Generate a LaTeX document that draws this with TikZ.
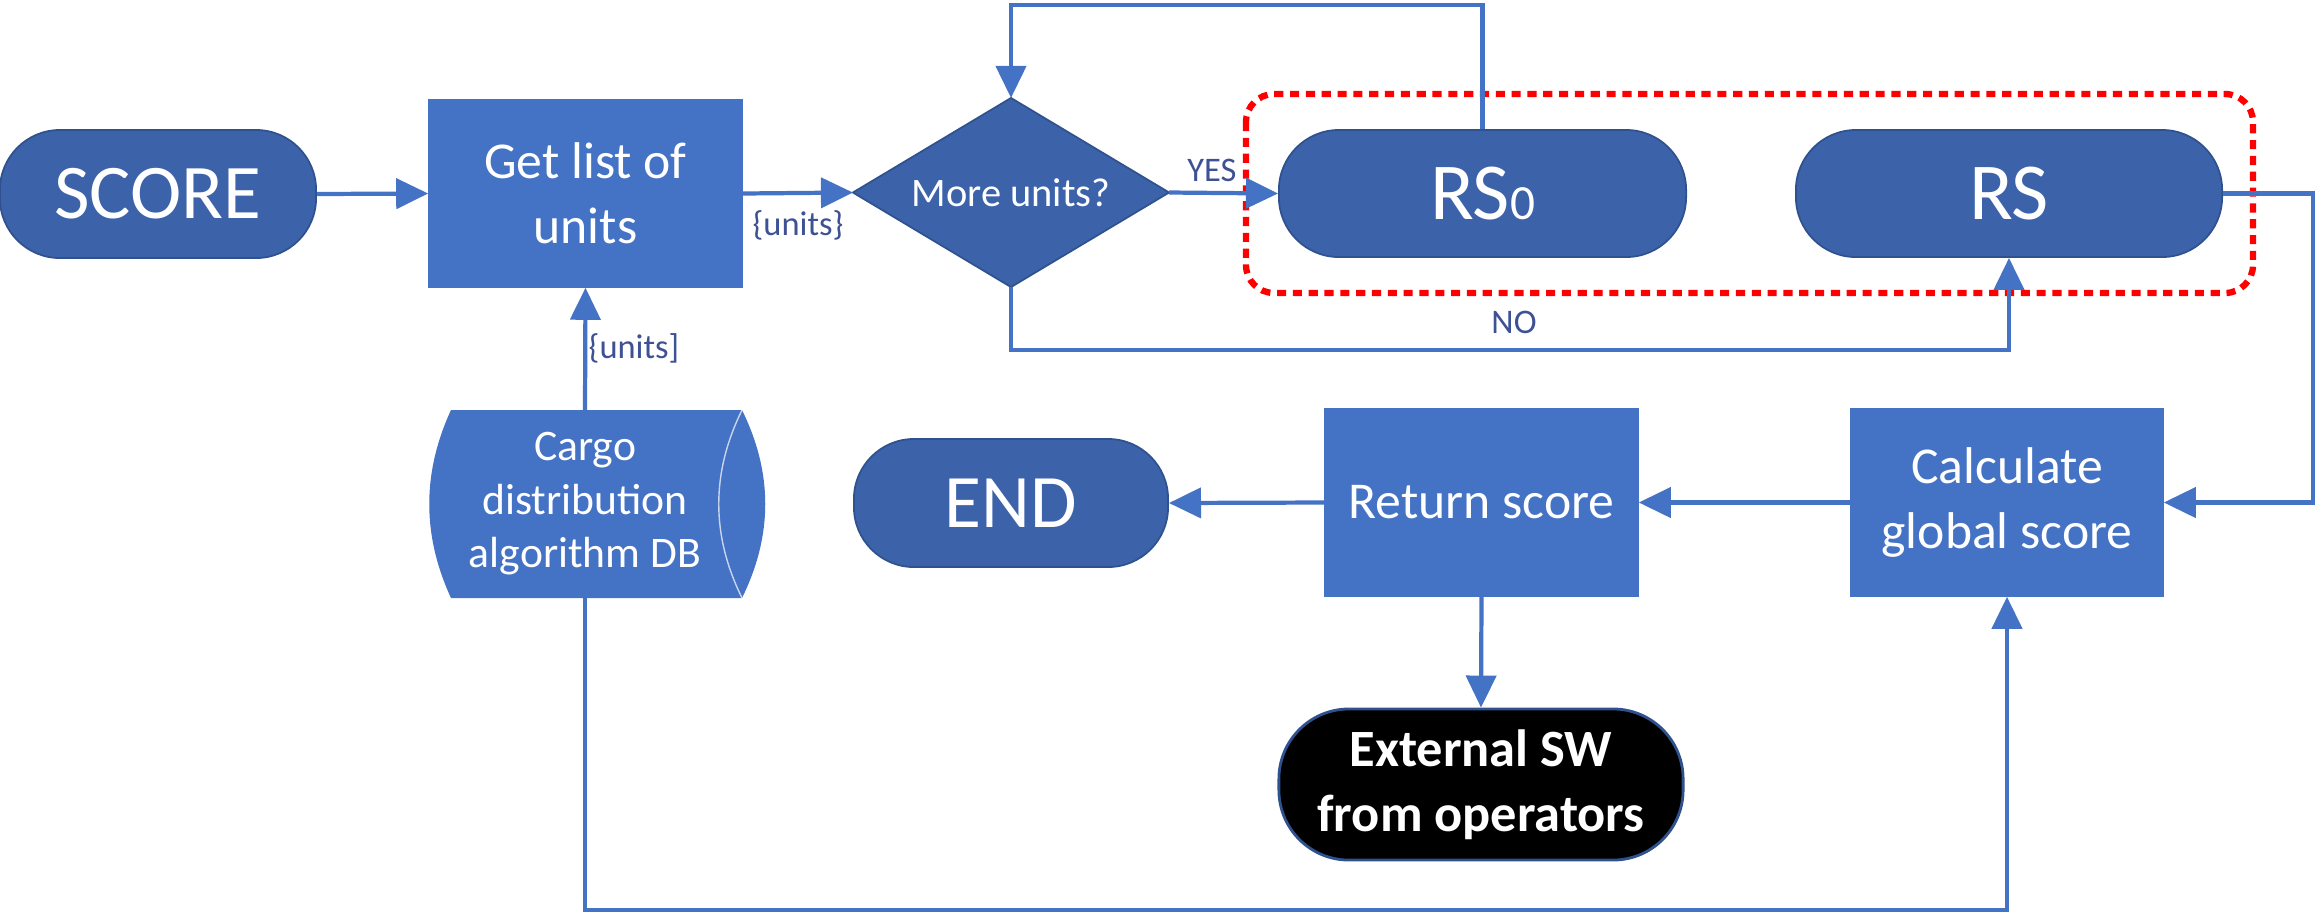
\documentclass[tikz,border=0pt]{standalone}
\usepackage{fontspec}
\setmainfont{Carlito}
\usetikzlibrary{arrows.meta,shapes.geometric}

\definecolor{boxblue}{HTML}{4472C4}
\definecolor{pillblue}{HTML}{3C62AA}
\definecolor{edgeblue}{HTML}{2F528F}
\definecolor{labelblue}{HTML}{3E5193}
\definecolor{framered}{HTML}{FF0000}

\begin{document}
\begin{tikzpicture}[x=0.01cm,y=-0.01cm,
  procbox/.style={rectangle, fill=boxblue, draw=boxblue, text=white,
    align=center, inner sep=0pt, font=\fontsize{14.7}{18.5}\selectfont},
  pill/.style={rectangle, rounded corners=0.6cm, fill=pillblue, draw=edgeblue,
    line width=0.5pt, text=white, align=center, inner sep=0pt},
  decision/.style={diamond, aspect=1.67, fill=pillblue, draw=edgeblue,
    line width=0.5pt, text=white, inner sep=0pt, outer sep=0pt,
    font=\fontsize{11.5}{14}\selectfont},
  flow/.style={draw=boxblue, line width=1.2pt,
    -{Triangle[length=0.32cm,width=0.30cm]}},
  edgelabel/.style={text=labelblue, inner sep=0pt, font=\fontsize{9.8}{11}\selectfont},
  groupframe/.style={draw=framered, line width=1.8pt, rounded corners=0.28cm,
    dash pattern=on 2.6pt off 1.9pt}
]
\useasboundingbox (0,0) rectangle (2318,914);

% ---- top row ----
\node[pill, minimum width=3.16cm, minimum height=1.28cm,
  font=\fontsize{22}{26}\selectfont] (score) at (158,194) {SCORE};
\node[procbox, minimum width=3.13cm, minimum height=1.87cm] (getlist)
  at (585.5,193.5) {Get list of\\units};
\node[decision, minimum width=3.16cm, minimum height=1.89cm] (more)
  at (1011,192.5) {More units?};
\node[pill, minimum width=4.07cm, minimum height=1.27cm,
  font=\fontsize{23}{26}\selectfont] (rs0) at (1482.5,193.5)
  {RS{\fontsize{14}{14}\selectfont 0}};
\node[pill, minimum width=4.26cm, minimum height=1.27cm,
  font=\fontsize{23}{26}\selectfont] (rs) at (2009,193.5) {RS};

% ---- middle row ----
\fill[boxblue] (451,410) .. controls (422,473) and (422,535) .. (451,598)
  -- (742,598) .. controls (773,535) and (773,473) .. (742,410) -- cycle;
\draw[white, opacity=0.7, line width=0.4pt]
  (742,410) .. controls (711,473) and (711,535) .. (742,598);
\node[text=white, align=center, inner sep=0pt,
  font=\fontsize{12.4}{15.2}\selectfont] (db) at (585,504)
  {Cargo\\distribution\\algorithm DB};
\coordinate (dbtop) at (585,410);
\coordinate (dbbottom) at (585,598);

\node[pill, minimum width=3.14cm, minimum height=1.28cm,
  font=\fontsize{21.5}{25}\selectfont] (end) at (1011,503) {END};
\node[procbox, minimum width=3.13cm, minimum height=1.87cm] (ret)
  at (1481.5,502.5) {Return score};
\node[procbox, minimum width=3.12cm, minimum height=1.87cm] (calc)
  at (2007,502.5) {Calculate\\global score};

% ---- bottom row ----
\node[rectangle, rounded corners=0.7cm, fill=black, draw=edgeblue,
  line width=0.8pt, text=white, align=center, inner sep=0pt,
  minimum width=4.04cm, minimum height=1.51cm,
  font=\bfseries\fontsize{14.9}{18.5}\selectfont] (ext) at (1481,784.5)
  {External SW\\from operators};

% ---- group frame ----
\draw[groupframe] (1246,94) rectangle (2253,293);

% ---- connectors ----
\draw[flow] (score.east) -- (getlist.west);
\draw[flow] (getlist.east) -- (more.west);
\node[edgelabel] (lunits) at (798,225) {\{units\}};
\draw[flow] (more.east) -- (rs0.west);
\node[edgelabel] (lyes) at (1212,170) {YES};
\draw[flow] (rs0.north) -- (rs0.north |- 0,5) -- (more.north |- 0,5) -- (more.north);
\draw[flow] (more.south) -- (more.south |- 0,350) -- (rs.south |- 0,350) -- (rs.south);
\node[edgelabel] (lno) at (1514,322) {NO};
\draw[flow] (rs.east) -- (2313,193.5) -- (2313,502.5) -- (calc.east);
\draw[flow] (calc.west) -- (ret.east);
\draw[flow] (ret.west) -- (end.east);
\draw[flow] (ret.south) -- (ext.north);
\draw[flow] (dbtop) -- (getlist.south);
\node[edgelabel] (ldb) at (634,348) {\{units]};
\draw[flow] (dbbottom) -- (585,910) -- (calc.south |- 0,910) -- (calc.south);
\end{tikzpicture}
\end{document}
